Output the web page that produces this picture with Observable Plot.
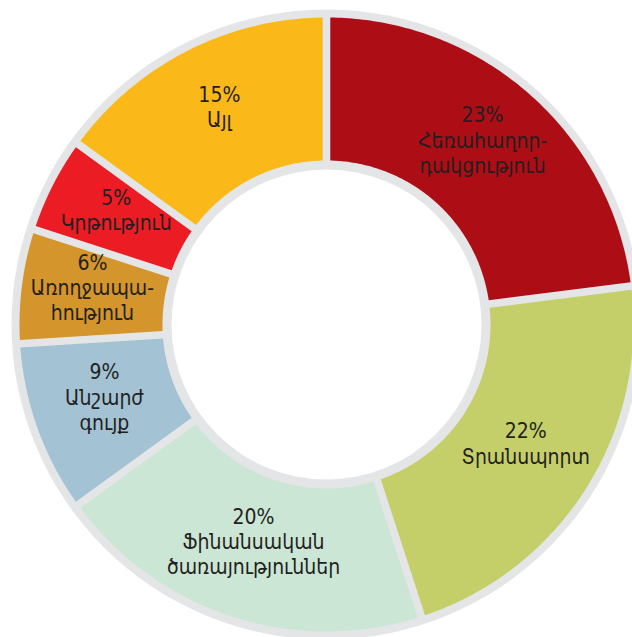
<!DOCTYPE html>
<html>
<head>
<meta charset="utf-8">
<script src="https://cdn.jsdelivr.net/npm/d3@7"></script>
<script src="https://cdn.jsdelivr.net/npm/@observablehq/plot@0.6"></script>
<style>
  html, body { margin: 0; padding: 0; background: #fff; overflow: hidden; }
  #chart svg { overflow: hidden; display: block; }
</style>
</head>
<body>
<div id="chart"></div>
<script>
// ---- data ----
const categories = ["Հեռահաղորդակցություն", "Տրանսպորտ", "Ֆինանսական ծառայություններ", "Անշարժ գույք", "Առողջապահություն", "Կրթություն", "Այլ"];
const labelLines = [
  ["Հեռահաղոր-", "դակցություն"],
  ["Տրանսպորտ"],
  ["Ֆինանսական", "ծառայություններ"],
  ["Անշարժ", "գույք"],
  ["Առողջապա-", "հություն"],
  ["Կրթություն"],
  ["Այլ"]
];
const shares = [23, 22, 20, 9, 6, 5, 15];
const colors = ["#ad0e15", "#c5cf6a", "#cce6d6", "#a3c2d3", "#d4952c", "#ec1c24", "#fbb919"];

// ---- geometry ----
const R_OUT = 307, R_IN = 164, R_RING_OUT = 315, R_HOLE = 155, HALF_GAP = 3.8, R_LABEL = 236;

const arcs = d3.pie().sort(null).value(d => d)(shares);
const polyPts = [];
arcs.forEach((a, i) => {
  const n = 120;
  const o0 = a.startAngle + Math.asin(HALF_GAP / R_OUT), o1 = a.endAngle - Math.asin(HALF_GAP / R_OUT);
  const i0 = a.startAngle + Math.asin(HALF_GAP / R_IN), i1 = a.endAngle - Math.asin(HALF_GAP / R_IN);
  for (let k = 0; k <= n; k++) {
    const t = o0 + (o1 - o0) * k / n;
    polyPts.push({key: categories[i], color: colors[i], x: R_OUT * Math.sin(t), y: R_OUT * Math.cos(t)});
  }
  for (let k = 0; k <= n; k++) {
    const t = i1 + (i0 - i1) * k / n;
    polyPts.push({key: categories[i], color: colors[i], x: R_IN * Math.sin(t), y: R_IN * Math.cos(t)});
  }
});

const labels = arcs.map((a, i) => {
  const m = (a.startAngle + a.endAngle) / 2;
  return {
    x: R_LABEL * Math.sin(m),
    y: R_LABEL * Math.cos(m),
    text: [shares[i] + "%", ...labelLines[i]].join("\n")
  };
});

const chart = Plot.plot({
  width: 632,
  height: 637,
  margin: 0,
  style: {background: "#ffffff"},
  x: {domain: [-326, 306], axis: null},
  y: {domain: [-313, 324], axis: null},
  marks: [
    Plot.dot([0], {x: () => 0, y: () => 0, r: R_RING_OUT, fill: "#e4e5e7", stroke: "none"}),
    Plot.line(polyPts, {x: "x", y: "y", z: "key", fill: "color", stroke: "none", curve: "linear-closed"}),
    Plot.dot([0], {x: () => 0, y: () => 0, r: R_HOLE, fill: "#ffffff", stroke: "none"}),
    Plot.text(labels, {
      x: "x", y: "y", text: "text",
      dy: -8,
      fontSize: 21, lineHeight: 1.2,
      fill: "#231f20",
      fontFamily: "'DejaVu Sans Condensed', 'DejaVu Sans', sans-serif"
    })
  ]
});
document.getElementById("chart").appendChild(chart);
</script>
</body>
</html>
